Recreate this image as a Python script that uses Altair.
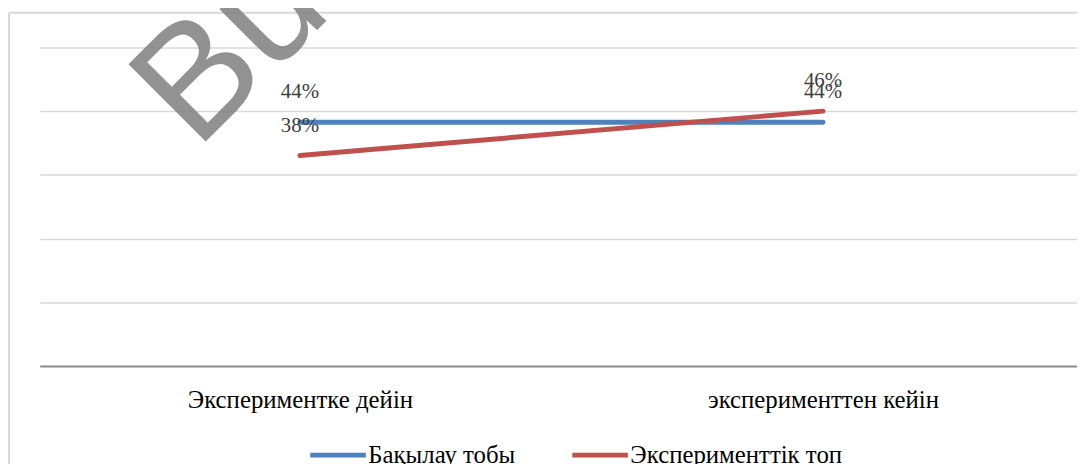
import altair as alt
import pandas as pd

categories = ["Экспериментке дейін", "эксперименттен кейін"]
series_names = ["Бақылау тобы", "Эксперименттік топ"]
control_values = [44, 44]
experiment_values = [38, 46]
value_labels_control = ["44%", "44%"]
value_labels_experiment = ["38%", "46%"]
grid_values = [0, 11.5, 23, 34.5, 46, 57.5]
colors = ["#4F81BD", "#C0504D"]

rows = []
for c, v, l in zip(categories, control_values, value_labels_control):
    rows.append({"cat": c, "series": series_names[0], "value": v, "label": l})
for c, v, l in zip(categories, experiment_values, value_labels_experiment):
    rows.append({"cat": c, "series": series_names[1], "value": v, "label": l})
df = pd.DataFrame(rows)

FONT = "Liberation Serif"

x_scale = alt.Scale(type="point", padding=0.4915, align=0.506)
x_enc = alt.X("cat:N", sort=categories, title=None, scale=x_scale,
              axis=alt.Axis(labelAngle=0, labelFont=FONT, labelFontSize=25,
                            labelColor="#000000", labelPadding=22, ticks=False,
                            labelLimit=0,
                            domainColor="#8C8C8C", domainWidth=2, grid=False))
y_enc = alt.Y("value:Q", title=None,
              scale=alt.Scale(domain=[0, 57.5], nice=False, zero=True),
              axis=alt.Axis(values=grid_values, labels=False, ticks=False, domain=False,
                            grid=True, gridColor="#D9D9D9", gridWidth=1.5))

base = alt.Chart(df)

lines = base.mark_line(strokeWidth=5, strokeCap="round", clip=False).encode(
    x=x_enc, y=y_enc,
    color=alt.Color("series:N", sort=series_names,
                    scale=alt.Scale(domain=series_names, range=colors),
                    legend=alt.Legend(title=None, orient="none", direction="horizontal",
                                      legendX=270, legendY=380,
                                      symbolType="stroke", symbolSize=3136,
                                      symbolStrokeWidth=5, labelFont=FONT,
                                      labelFontSize=25, labelColor="#000000",
                                      labelLimit=0, labelOffset=0, columnPadding=46)),
)

labels = base.mark_text(font=FONT, fontSize=21, color="#404040", dy=-30,
                        baseline="middle", align="center").encode(
    x=alt.X("cat:N", sort=categories, scale=x_scale), y="value:Q", text="label:N")

frame_left = alt.Chart(pd.DataFrame({"k": [0]})).mark_rule(
    color="#D9D9D9", strokeWidth=2).encode(
    x=alt.value(-31), y=alt.value(-35), y2=alt.value(420))
frame_top = alt.Chart(pd.DataFrame({"k": [0]})).mark_rule(
    color="#D9D9D9", strokeWidth=2).encode(
    x=alt.value(-31), x2=alt.value(1050), y=alt.value(-35))

watermark = alt.Chart(pd.DataFrame({"t": ["Bull"]})).mark_text(
    font="Liberation Sans", fontSize=160, angle=315, align="left",
    baseline="alphabetic", color="#808080", opacity=0.85).encode(
    x=alt.value(158), y=alt.value(104), text="t:N")

chart = alt.layer(frame_left, frame_top, lines, labels, watermark).properties(
    width=1045, height=321,
    padding={"left": 32, "top": 46 - 8, "right": 0, "bottom": 97},
    autosize=alt.AutoSizeParams(type="none"),
).configure_view(stroke=None)

chart.save("out.html", embed_options={"renderer": "svg", "actions": False})
